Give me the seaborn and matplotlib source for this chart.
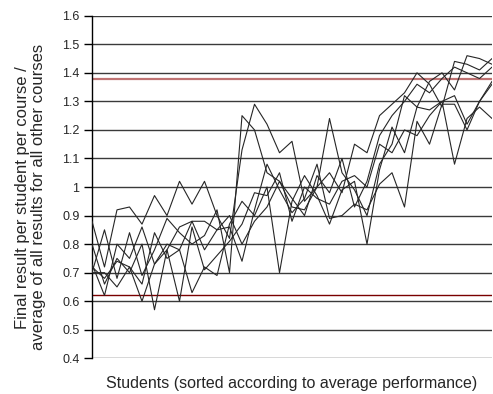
import numpy as np
import pandas as pd
import matplotlib
matplotlib.use("Agg")
import matplotlib.pyplot as plt
import seaborn as sns

# ratio of course result to average of all other courses, per student (sorted)
course_1 = [0.88, 0.72, 0.92, 0.93, 0.87, 0.97, 0.90, 1.02, 0.94, 1.02, 0.90, 0.82, 1.13,
            1.29, 1.22, 1.12, 1.16, 0.95, 1.00, 1.24, 1.05, 0.99, 0.90, 1.08, 1.15, 1.32,
            1.28, 1.37, 1.40, 1.34, 1.46, 1.45, 1.43]
course_2 = [0.70, 0.85, 0.68, 0.84, 0.69, 0.78, 0.89, 0.84, 0.80, 0.83, 0.92, 0.70, 1.25,
            1.20, 1.05, 1.02, 0.96, 0.90, 1.04, 0.98, 1.10, 0.93, 1.02, 1.18, 1.25, 1.30,
            1.36, 1.33, 1.38, 1.42, 1.40, 1.38, 1.42]
course_3 = [0.80, 0.66, 0.75, 0.70, 0.80, 0.57, 0.78, 0.86, 0.88, 0.78, 0.85, 0.86, 0.74,
            0.92, 1.08, 0.99, 0.91, 0.96, 1.08, 0.89, 0.90, 0.94, 0.92, 1.01, 1.05, 0.93,
            1.23, 1.15, 1.29, 1.29, 1.20, 1.30, 1.37]
course_4 = [0.72, 0.68, 0.74, 0.72, 0.66, 0.84, 0.75, 0.78, 0.63, 0.72, 0.69, 0.87, 0.95,
            0.90, 1.00, 0.70, 0.95, 1.04, 0.97, 0.87, 0.99, 1.02, 0.80, 1.06, 1.21, 1.12,
            1.28, 1.27, 1.30, 1.08, 1.24, 1.28, 1.24]
course_5 = [0.70, 0.70, 0.65, 0.72, 0.60, 0.73, 0.80, 0.78, 0.88, 0.88, 0.85, 0.90, 0.80,
            0.88, 0.93, 1.02, 0.93, 0.92, 1.00, 1.05, 0.98, 1.15, 1.12, 1.25, 1.29, 1.33,
            1.40, 1.36, 1.28, 1.44, 1.43, 1.41, 1.45]
course_6 = [0.73, 0.62, 0.80, 0.75, 0.86, 0.73, 0.78, 0.60, 0.86, 0.71, 0.76, 0.81, 0.87,
            0.98, 0.97, 1.05, 0.88, 1.00, 0.96, 0.94, 1.02, 1.04, 1.00, 1.15, 1.12, 1.20,
            1.18, 1.25, 1.30, 1.32, 1.22, 1.30, 1.36]

upper_limit = 1.38
lower_limit = 0.62
y_ticks = [0.4, 0.5, 0.6, 0.7, 0.8, 0.9, 1.0, 1.1, 1.2, 1.3, 1.4, 1.5, 1.6]
y_labels = ["0.4", "0.5", "0.6", "0.7", "0.8", "0.9", "1", "1.1", "1.2", "1.3", "1.4", "1.5", "1.6"]

courses = [course_1, course_2, course_3, course_4, course_5, course_6]
rows = []
for c, vals in enumerate(courses):
    for i, v in enumerate(vals):
        rows.append({"student": i, "course": "c%d" % c, "ratio": v})
df = pd.DataFrame(rows)

sns.set_style("white")
plt.rcParams['font.family'] = ['Liberation Sans', 'DejaVu Sans']

fig = plt.figure(figsize=(4.93, 3.94), dpi=100)
ax = fig.add_axes([0.1866, 0.0906, 0.8114, 0.8695])

for t in y_ticks:
    ax.axhline(t, color="#3a3a3a", lw=1.0, zorder=1)
ax.axhline(upper_limit, color="#b05050", lw=1.6, alpha=0.8, zorder=1)
ax.axhline(lower_limit, color="#7a0000", lw=1.0, zorder=1)

sns.lineplot(data=df, x="student", y="ratio", hue="course",
             palette=["#262626"] * len(courses), lw=0.8, legend=False,
             ax=ax, zorder=3)

ax.set_xlim(0, len(course_1) - 1)
ax.set_ylim(0.4, 1.6)
ax.set_yticks(y_ticks)
ax.set_yticklabels(y_labels, fontsize=9)
ax.set_xticks([])
ax.tick_params(axis="y", direction="out", length=6, width=1, color="black", pad=3, left=True)
for side in ["top", "right", "bottom"]:
    ax.spines[side].set_visible(False)
ax.spines["left"].set_color("black")
ax.spines["left"].set_linewidth(1.0)

ax.set_xlabel("Students (sorted according to average performance)", fontsize=11.5, labelpad=13)
ax.set_ylabel("Final result per student per course /\naverage of all results for all other courses",
              fontsize=12, linespacing=1.1)
ax.yaxis.set_label_coords(-0.115, 0.47)

fig.savefig("out.png", dpi=100)
